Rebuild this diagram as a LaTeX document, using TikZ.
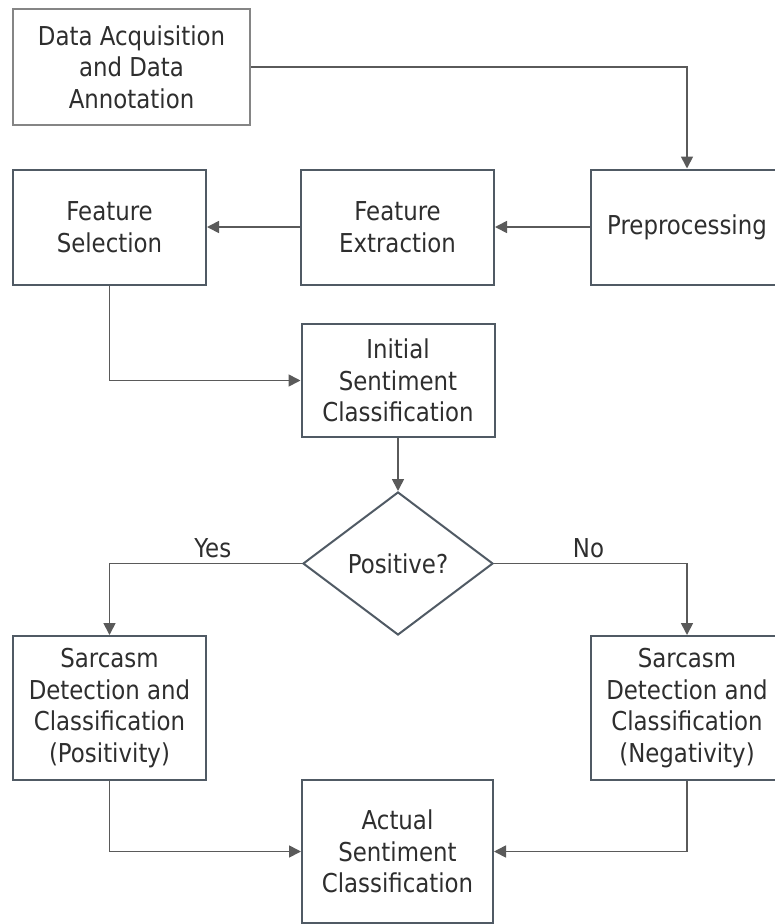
\documentclass[tikz,border=0pt]{standalone}
\usepackage{fontspec}
\setmainfont{DejaVu Sans}[FakeStretch=0.88]
\usetikzlibrary{arrows.meta,shapes.geometric}

\definecolor{boxline}{HTML}{505A64}
\definecolor{softline}{HTML}{858585}
\definecolor{arrline}{HTML}{5A5A5A}
\definecolor{txt}{HTML}{2E2E2E}

\begin{document}
\begin{tikzpicture}[x=1pt,y=-1pt,
  lbl/.style={text=txt, font=\fontsize{26}{31.5}\selectfont},
  box/.style={lbl, draw=boxline, line width=2pt, fill=white,
    minimum width=193pt, minimum height=115pt, align=center, inner sep=0pt},
  tallbox/.style={box, minimum height=144pt},
  startbox/.style={box, draw=softline, minimum width=237pt, minimum height=116pt},
  decision/.style={lbl, diamond, draw=boxline, line width=2pt, fill=white,
    minimum width=190pt, minimum height=143pt, inner sep=0pt},
  arr/.style={draw=arrline, line width=1.7pt,
    -{Triangle[length=12pt,width=12pt]}, arrline}
]
\useasboundingbox (0,0) rectangle (775,924);

% process steps
\node[startbox] (acq)  at (131.5,67)  {Data Acquisition\\and Data\\Annotation};
\node[box]      (pre)  at (687,227)   {Preprocessing};
\node[box]      (fex)  at (397.5,227) {Feature\\Extraction};
\node[box]      (fsel) at (109.5,227) {Feature\\Selection};
\node[box, minimum height=113pt] (isc) at (398,380.5) {Initial\\Sentiment\\Classification};
\node[decision] (dec)  at (398,563.5) {Positive?};
\node[tallbox]  (spos) at (109.5,708) {Sarcasm\\Detection and\\Classification\\(Positivity)};
\node[tallbox]  (sneg) at (687,708)   {Sarcasm\\Detection and\\Classification\\(Negativity)};
\node[tallbox, minimum width=191pt, minimum height=143pt] (act) at (397.5,851.5)
  {Actual\\Sentiment\\Classification};

% flow
\draw[arr] (acq.east) -| (pre.north);
\draw[arr] (pre.west) -- (fex.east);
\draw[arr] (fex.west) -- (fsel.east);
\draw[arr] (fsel.south) |- (isc.west);
\draw[arr] (isc.south) -- (dec.north);
\draw[arr] (dec.west) -| (spos.north) node[lbl, pos=0.25, above=1pt, xshift=7pt] {Yes};
\draw[arr] (dec.east) -| (sneg.north) node[lbl, pos=0.25, above=1pt, xshift=-2pt] {No};
\draw[arr] (spos.south) |- (act.west);
\draw[arr] (sneg.south) |- (act.east);
\end{tikzpicture}
\end{document}
